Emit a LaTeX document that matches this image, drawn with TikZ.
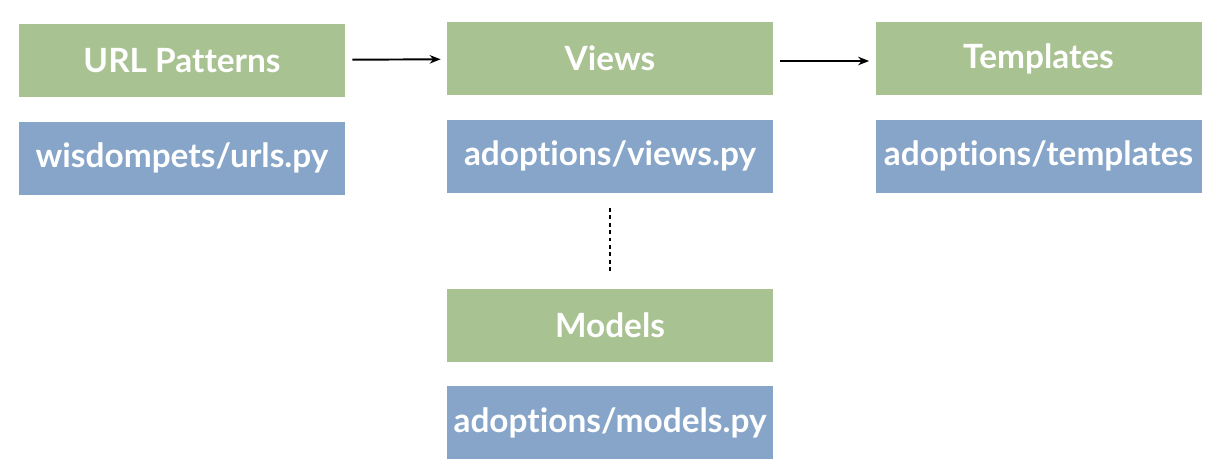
\documentclass[tikz,border=0pt]{standalone}
\usepackage{fontspec}
\setmainfont{Lato}[Ligatures={NoCommon}]
\usetikzlibrary{positioning,arrows.meta}
\definecolor{boxgreen}{HTML}{A9C292}
\definecolor{boxblue}{HTML}{87A5C8}
\tikzset{
  box/.style={minimum width=6.52cm, minimum height=1.46cm, inner sep=0pt,
    text=white, font=\fontsize{19}{22}\selectfont\bfseries},
  layer/.style={box, fill=boxgreen},
  file/.style={box, fill=boxblue},
  flow/.style={-{Stealth[length=0.22cm, width=0.17cm]}, line width=1.1pt,
    shorten <=0.14cm, shorten >=0.12cm},
}
\begin{document}
\begin{tikzpicture}[node distance=0.48cm]
\useasboundingbox (0,0) rectangle (24.44,-9.44);
\node[layer] (urls) at (3.64,-1.21) {URL Patterns};
\node[file, below=of urls] (urlsfile) {wisdompets/urls.py};
\node[layer] (views) at (12.2,-1.17) {Views};
\node[file, below=of views] (viewsfile) {adoptions/views.py};
\node[layer] (templates) at (20.77,-1.17) {Templates};
\node[file, below=of templates] (templatesfile) {adoptions/templates};
\node[layer] (models) at (12.2,-6.5) {Models};
\node[file, below=of models] (modelsfile) {adoptions/models.py};

\draw[flow] (urls) -- (views);
\draw[flow] (views.east |- 0,-1.22) -- (templates.west |- 0,-1.22);
\draw[line width=1.3pt, dash pattern=on 2.2pt off 2pt, shorten <=0.3cm, shorten >=0.28cm] (viewsfile) -- (models);
\end{tikzpicture}
\end{document}
